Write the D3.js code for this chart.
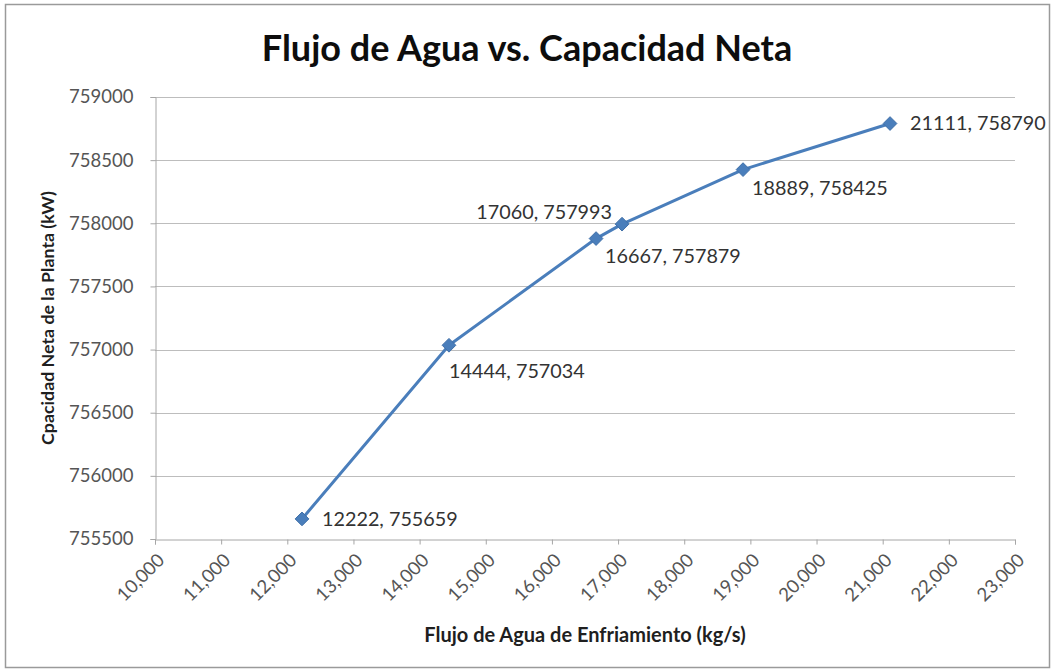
<!DOCTYPE html>
<html>
<head>
<meta charset="utf-8">
<script src="https://cdn.jsdelivr.net/npm/d3@7"></script>
<style>
  html, body { margin: 0; padding: 0; background: #ffffff; }
  svg { display: block; }
  text { font-family: Lato, "Open Sans", sans-serif; }
</style>
</head>
<body>
<svg id="chart" width="1054" height="672"></svg>
<script>
// Cooling water flow (kg/s) vs. net plant capacity (kW)
const flowValues = [12222, 14444, 16667, 17060, 18889, 21111];
const capacityValues = [755659, 757034, 757879, 757993, 758425, 758790];
const xTickValues = [10000, 11000, 12000, 13000, 14000, 15000, 16000, 17000, 18000, 19000, 20000, 21000, 22000, 23000];
const yTickValues = [755500, 756000, 756500, 757000, 757500, 758000, 758500, 759000];
// where each point's label sits relative to its marker
const labelSides = ["right", "below", "belowRight", "aboveLeft", "belowRight", "right"];

const titleText = "Flujo de Agua vs. Capacidad Neta";
const xTitleText = "Flujo de Agua de Enfriamiento (kg/s)";
const yTitleText = "Cpacidad Neta de la Planta (kW)";

const svg = d3.select("#chart");
const plot = { left: 155, right: 1015, top: 97, bottom: 539 };

const x = d3.scaleLinear().domain([10000, 23000]).range([plot.left, plot.right]);
const y = d3.scaleLinear().domain([755500, 759000]).range([plot.bottom, plot.top]);

// chart frame
svg.append("rect")
  .attr("x", 5.5).attr("y", 4.5).attr("width", 1044).attr("height", 663)
  .attr("fill", "#ffffff").attr("stroke", "#9a9a9a").attr("stroke-width", 1.5);

// horizontal gridlines
svg.append("g")
  .selectAll("line")
  .data(yTickValues.slice(1))
  .join("line")
  .attr("x1", plot.left).attr("x2", plot.right)
  .attr("y1", d => Math.round(y(d)) + 0.5).attr("y2", d => Math.round(y(d)) + 0.5)
  .attr("stroke", "#bdbdbd").attr("stroke-width", 1.2);

// y axis
const yAxis = svg.append("g")
  .attr("transform", `translate(${plot.left + 0.5},0)`)
  .call(d3.axisLeft(y).tickValues(yTickValues).tickFormat(d3.format("d")).tickSize(5).tickPadding(17));
yAxis.select(".domain").attr("stroke", "#a6a6a6");
yAxis.selectAll(".tick line").attr("stroke", "#a6a6a6");
yAxis.selectAll(".tick text")
  .attr("fill", "#555555").style("font-size", "18.5px").style("font-family", "Lato, sans-serif");

// x axis
const xAxis = svg.append("g")
  .attr("transform", `translate(0,${plot.bottom + 0.5})`)
  .call(d3.axisBottom(x).tickValues(xTickValues).tickFormat(d3.format(",")).tickSize(5));
xAxis.select(".domain").attr("stroke", "#a6a6a6");
xAxis.selectAll(".tick line").attr("stroke", "#a6a6a6");
xAxis.selectAll(".tick text")
  .attr("fill", "#555555").style("font-size", "18.5px").style("font-family", "Lato, sans-serif")
  .attr("text-anchor", "end")
  .attr("dy", null)
  .attr("y", 0)
  .attr("transform", "translate(10,22) rotate(-45)");

// series line
const points = flowValues.map((f, i) => ({ flow: f, cap: capacityValues[i], side: labelSides[i] }));
svg.append("path")
  .datum(points)
  .attr("fill", "none")
  .attr("stroke", "#4a7ebb")
  .attr("stroke-width", 3)
  .attr("stroke-linejoin", "round")
  .attr("d", d3.line().x(d => x(d.flow)).y(d => y(d.cap)));

// diamond markers
svg.append("g")
  .selectAll("path")
  .data(points)
  .join("path")
  .attr("transform", d => `translate(${x(d.flow)},${y(d.cap)})`)
  .attr("d", d3.symbol().type(d3.symbolDiamond2).size(120))
  .attr("fill", "#4a7ebb")
  .attr("stroke", "#3f6fa8")
  .attr("stroke-width", 1);

// point labels
const offsets = {
  right:      { dx: 20, dy: 0, anchor: "start" },
  below:      { dx: 0, dy: 26, anchor: "start" },
  belowRight: { dx: 9, dy: 18, anchor: "start" },
  aboveLeft:  { dx: -10, dy: -12, anchor: "end" }
};
svg.append("g")
  .selectAll("text")
  .data(points)
  .join("text")
  .attr("x", d => x(d.flow) + offsets[d.side].dx)
  .attr("y", d => y(d.cap) + offsets[d.side].dy)
  .attr("dy", "0.35em")
  .attr("text-anchor", d => offsets[d.side].anchor)
  .attr("fill", "#333333")
  .style("font-size", "19.8px")
  .text(d => `${d.flow}, ${d.cap}`);

// title
svg.append("text")
  .attr("x", 527).attr("y", 61)
  .attr("text-anchor", "middle")
  .attr("fill", "#0d0d0d")
  .style("font-size", "36px").style("font-weight", "bold")
  .text(titleText);

// x axis title
svg.append("text")
  .attr("x", 585).attr("y", 642)
  .attr("text-anchor", "middle")
  .attr("fill", "#1f1f1f")
  .style("font-size", "20px").style("font-weight", "bold")
  .text(xTitleText);

// y axis title
svg.append("text")
  .attr("transform", "translate(54,318) rotate(-90)")
  .attr("text-anchor", "middle")
  .attr("fill", "#1f1f1f")
  .style("font-size", "17.8px").style("font-weight", "bold")
  .text(yTitleText);
</script>
</body>
</html>
